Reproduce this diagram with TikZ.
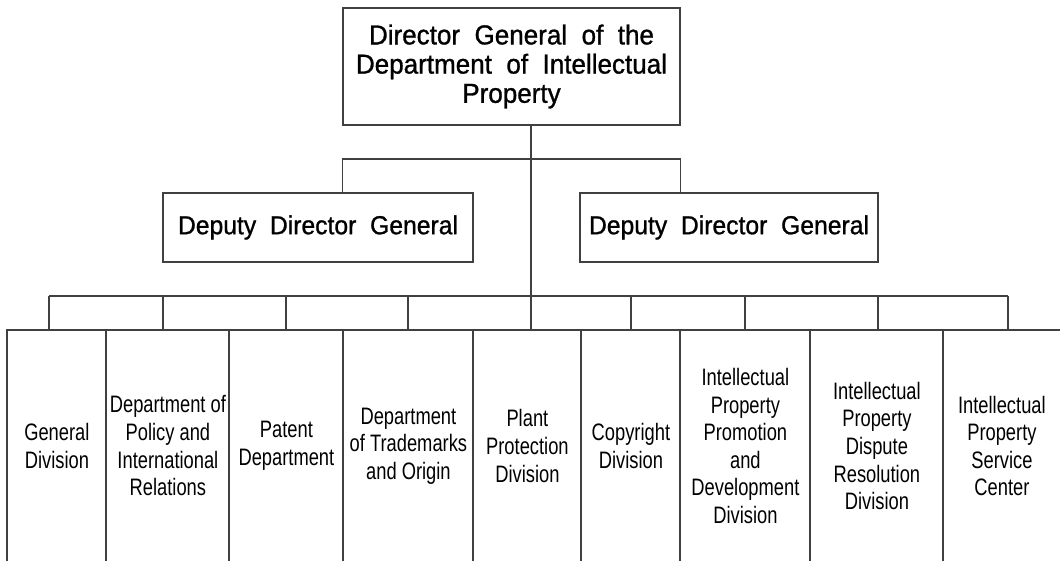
\documentclass[tikz,border=0pt]{standalone}
\usepackage{fontspec}
\newfontfamily\headfont[FakeStretch=0.95,WordSpace=2,FakeBold=1]{Liberation Sans}
\newfontfamily\cellfont[FakeStretch=0.77]{Liberation Sans}
\usetikzlibrary{positioning}

\begin{document}
\begin{tikzpicture}[
  x=0.5pt, y=-0.5pt,
  org-line/.style={draw=black!75, line width=0.7pt},
  head-box/.style={org-line, align=center, inner sep=0pt, font=\headfont\fontsize{13}{14.5}\selectfont},
  unit-cell/.style={align=center, inner sep=0pt, anchor=north west, minimum height=115.5pt, font=\cellfont\fontsize{11.9}{13.8}\selectfont}
]
\useasboundingbox (0,0) rectangle (1060,561);

\node[head-box, minimum width=168.5pt, minimum height=58.5pt, font=\headfont\fontsize{13.7}{14.6}\selectfont] (dg) at (511.5,66.5) {Director General of the\\Department of Intellectual\\Property};

\node[head-box, minimum width=155pt, minimum height=34.5pt] (dep-l) at (318,227.5) {Deputy Director General};
\node[head-box, minimum width=149pt, minimum height=34.5pt] (dep-r) at (729,227.5) {Deputy Director General};

\coordinate (split) at (531,159);
\coordinate (bus) at (531,296);

\node[unit-cell, minimum width=49.5pt] (u1) at (7,330) {General\\Division};
\node[unit-cell, minimum width=61.5pt] (u2) at (106,330) {Department of\\Policy and\\International\\Relations};
\node[unit-cell, minimum width=57pt] (u3) at (229,330) {Patent\\Department};
\node[unit-cell, minimum width=65pt] (u4) at (343,330) {Department\\of Trademarks\\and Origin};
\node[unit-cell, minimum width=54pt] (u5) at (473,330) {Plant\\Protection\\Division};
\node[unit-cell, minimum width=49.5pt] (u6) at (581,330) {Copyright\\Division};
\node[unit-cell, minimum width=65pt] (u7) at (680,330) {Intellectual\\Property\\Promotion\\and\\Development\\Division};
\node[unit-cell, minimum width=66.5pt] (u8) at (810,330) {Intellectual\\Property\\Dispute\\Resolution\\Division};
\node[unit-cell, minimum width=58.5pt] (u9) at (943,330) {Intellectual\\Property\\Service\\Center};

\draw[org-line] (bus |- dg.south) -- (bus);
\draw[org-line] (dep-l.north -| dg.west) |- (split) -| (dep-r.north -| dg.east);

\foreach \i in {1,...,9}
  \draw[org-line] (u\i.south west) |- (u\i.north east);

\draw[org-line] (49,296) -- (1008,296);
\foreach \x in {49,163,286,408,531,631,745,878,1008}
  \draw[org-line] (\x,296) -- (\x,330);
\end{tikzpicture}
\end{document}
